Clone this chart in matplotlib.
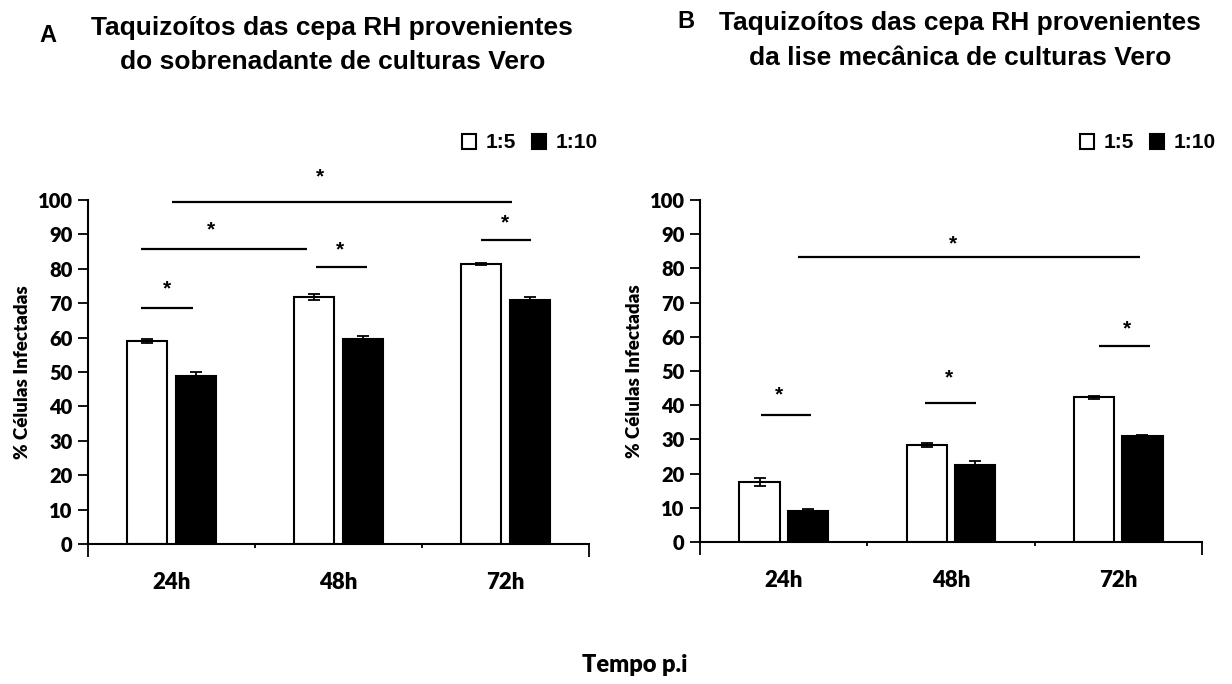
import matplotlib.pyplot as plt
import numpy as np

categories = ['24h', '48h', '72h']
labels = ['1:5', '1:10']

# panel A: supernatant
a_15 = [59.0, 71.8, 81.4]
a_15_err = [0.5, 0.9, 0.3]
a_110 = [48.9, 59.5, 70.9]
a_110_err = [1.0, 1.1, 1.0]

# panel B: mechanical lysis
b_15 = [17.6, 28.4, 42.3]
b_15_err = [1.1, 0.6, 0.5]
b_110 = [9.1, 22.5, 31.0]
b_110_err = [0.5, 1.1, 0.4]

# significance bars: (x start, x end, y line, star x, star y)
a_sig = [(0.0, 2.04, 99.5, 0.89, 106.8),
         (-0.18, 0.81, 85.7, 0.235, 91.3),
         (-0.18, 0.13, 68.7, -0.03, 74.1),
         (0.865, 1.169, 80.4, 1.009, 85.5),
         (1.853, 2.153, 88.4, 1.997, 93.4)]
b_sig = [(0.086, 2.128, 83.2, 1.009, 87.3),
         (-0.138, 0.161, 37.0, -0.03, 43.0),
         (0.843, 1.147, 40.6, 0.99, 47.9),
         (1.886, 2.189, 57.4, 2.054, 62.3)]

title_font = 'Liberation Sans'
tick_font = 'Lato'

fig = plt.figure(figsize=(12.32, 6.84), dpi=100)
axA = fig.add_axes([88/1232, 140/684, 501/1232, 344/684])
axB = fig.add_axes([700/1232, 142/684, 502/1232, 342/684])

w = 0.24
off = 0.144
x = np.arange(len(categories))


def draw(ax, v1, e1, v2, e2, sig):
    ek = dict(ecolor='black', elinewidth=1.3, capsize=4, capthick=1.3)
    b1 = ax.bar(x - off, v1, w, color='white', edgecolor='black', linewidth=1.5,
                yerr=e1, error_kw=ek, label=labels[0], zorder=2)
    b2 = ax.bar(x + off, v2, w, color='black', edgecolor='black', linewidth=1.5,
                yerr=e2, error_kw=ek, label=labels[1], zorder=2)
    for x0, x1, y, sx, sy in sig:
        ax.hlines(y, x0, x1, color='black', linewidth=1.6, clip_on=False)
        ax.text(sx, sy, '*', ha='center', va='center', fontsize=15,
                fontweight='bold', family=title_font, clip_on=False)
    ax.set_xlim(-0.5, 2.5)
    ax.set_ylim(0, 100)
    ax.set_yticks(range(0, 101, 10))
    ax.set_xticks(x)
    ax.set_xticklabels(categories)
    ax.set_xticks([-0.5, 0.5, 1.5, 2.5], minor=True)
    ax.tick_params(axis='x', which='major', length=0, pad=20)
    ax.tick_params(axis='x', which='minor', length=3, width=1.3, direction='out')
    mt = ax.xaxis.get_minor_ticks()
    for i in (0, 3):
        mt[i].tick1line.set_markersize(9)
    ax.tick_params(axis='y', length=7, width=1.3, direction='out', pad=4)
    for lab in ax.get_xticklabels():
        lab.set_fontfamily(tick_font)
        lab.set_fontweight('heavy')
        lab.set_fontsize(16)
    for lab in ax.get_yticklabels():
        lab.set_fontfamily(tick_font)
        lab.set_fontweight('heavy')
        lab.set_fontsize(14.5)
    ax.spines['top'].set_visible(False)
    ax.spines['right'].set_visible(False)
    ax.spines['left'].set_linewidth(1.5)
    ax.spines['bottom'].set_linewidth(1.5)
    ax.set_ylabel('% Células Infectadas', family=tick_font, fontweight='heavy',
                  fontsize=13.5, labelpad=5)
    return b1, b2


hA = draw(axA, a_15, a_15_err, a_110, a_110_err, a_sig)
hB = draw(axB, b_15, b_15_err, b_110, b_110_err, b_sig)

for h, xr in ((hA, 600/1232), (hB, 1218/1232)):
    fig.legend(h, labels, loc='center right', bbox_to_anchor=(xr, 1 - 143/684),
               frameon=False, ncol=2, handlelength=0.7, handleheight=0.7,
               handletextpad=0.45, columnspacing=0.75, borderpad=0.1,
               borderaxespad=0,
               prop=dict(family=title_font, weight='bold', size=15))

fig.text(48/1232, 1 - 35/684, 'A', family=title_font, fontweight='bold',
         fontsize=17, ha='center', va='center')
fig.text(332/1232, 1 - 28/684, 'Taquizoítos das cepa RH provenientes',
         family=title_font, fontweight='bold', fontsize=19, ha='center',
         va='center')
fig.text(333/1232, 1 - 62/684, 'do sobrenadante de culturas Vero',
         family=title_font, fontweight='bold', fontsize=19, ha='center',
         va='center')
fig.text(686/1232, 1 - 21/684, 'B', family=title_font, fontweight='bold',
         fontsize=17, ha='center', va='center')
fig.text(960/1232, 1 - 23/684, 'Taquizoítos das cepa RH provenientes',
         family=title_font, fontweight='bold', fontsize=19, ha='center',
         va='center')
fig.text(960/1232, 1 - 58/684, 'da lise mecânica de culturas Vero',
         family=title_font, fontweight='bold', fontsize=19, ha='center',
         va='center')
fig.text(635/1232, 1 - 665/684, 'Tempo p.i', family=tick_font,
         fontweight='heavy', fontsize=17, ha='center', va='center')

fig.savefig('out.png', dpi=100)
